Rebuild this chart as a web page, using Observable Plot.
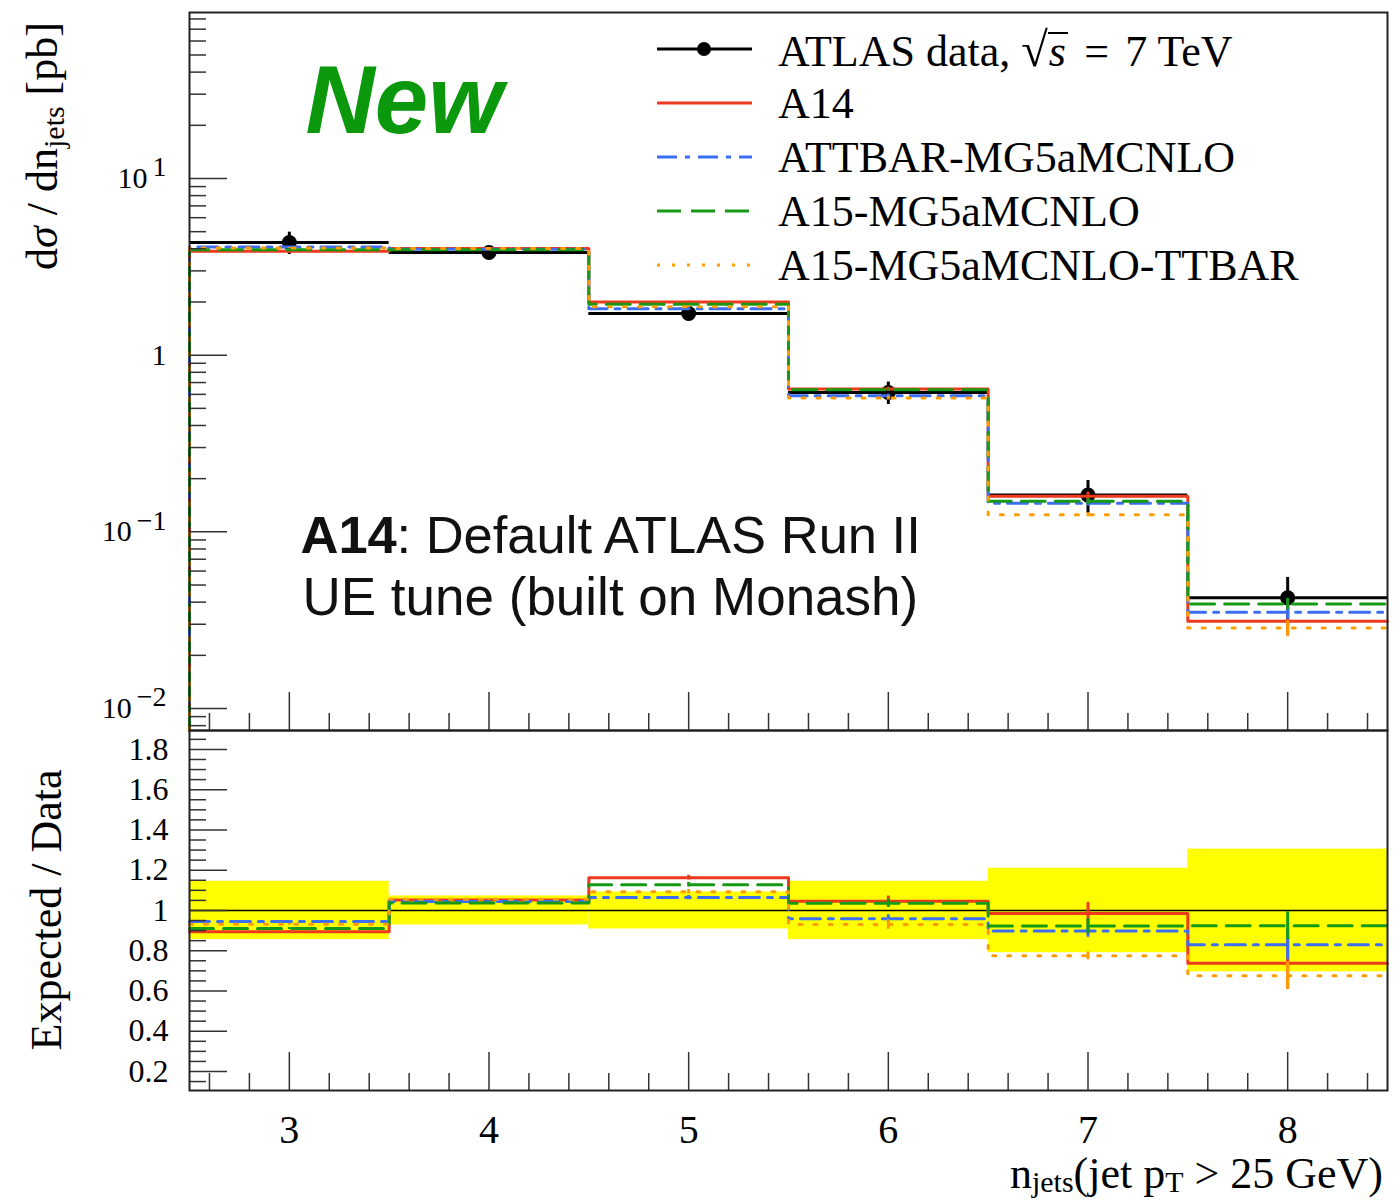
<!DOCTYPE html>
<html>
<head>
<meta charset="utf-8">
<script src="https://cdn.jsdelivr.net/npm/d3@7"></script>
<script src="https://cdn.jsdelivr.net/npm/@observablehq/plot@0.6"></script>
<style>
  html, body { margin: 0; padding: 0; background: #fff; overflow: hidden; }
  #wrap { position: relative; width: 1400px; height: 1202px; overflow: hidden; background: #fff; }
  #wrap svg.plotsvg { position: absolute; left: 0; }
  .serif { font-family: "Liberation Serif", "Times New Roman", serif; color: #000; }
  .ytitle { position: absolute; transform: translate(-50%, -50%) rotate(-90deg); white-space: nowrap; font-size: 44px; line-height: 44px; }
  .ytitle sub { font-size: 0.68em; line-height: 0; vertical-align: -0.22em; }
  .xtitle { position: absolute; white-space: nowrap; font-size: 44px; line-height: 40px; }
  .xtitle sub { font-size: 0.68em; line-height: 0; vertical-align: -0.12em; }
  .legrow { position: absolute; left: 650px; height: 54px; display: flex; align-items: center; white-space: nowrap; font-size: 44px; }
  .legrow svg { width: 110px; height: 20px; margin-right: 18px; flex: none; }
  .rad { font-size: 1.1em; }
  .over { font-style: italic; display: inline-block; border-top: 2px solid #000; line-height: 0.78em; padding: 1px 2px 0 1px; }
  .eq { padding: 0 0.12em; }
</style>
</head>
<body>
<div id="wrap"></div>
<script>
// n_jets bins (jet pT > 25 GeV)
const binEdges = [2.5, 3.5, 4.5, 5.5, 6.5, 7.5, 8.5];
const nJets = [3, 4, 5, 6, 7, 8];
const xTickLabels = ["3", "4", "5", "6", "7", "8"];

// ATLAS 7 TeV measurement: dσ/dn_jets [pb] and relative uncertainty
const dataXsec = [4.34, 3.81, 1.72, 0.615, 0.1614, 0.0423];
const dataRelErr = [0.145, 0.072, 0.092, 0.145, 0.21, 0.305];

// Generator predictions [pb]
const a14 = [3.88, 4.01, 2.00, 0.643, 0.159, 0.0312];
const attbar = [4.10, 3.98, 1.83, 0.590, 0.145, 0.0351];
const a15 = [3.95, 3.95, 1.94, 0.637, 0.149, 0.0391];
const a15ttbar = [4.04, 4.02, 1.88, 0.572, 0.125, 0.0286];

// Relative MC statistical uncertainties
const a14Err = [0.005, 0.005, 0.01, 0.025, 0.055, 0.175];
const attbarErr = [0.005, 0.005, 0.01, 0.02, 0.035, 0.09];
const a15Err = [0.005, 0.005, 0.01, 0.02, 0.04, 0.075];
const a15ttbarErr = [0.005, 0.005, 0.01, 0.025, 0.025, 0.1];

// Axis tick labels
const logTickValues = [0.01, 0.1, 1, 10];
const logTickLabels = ["10^−2", "10^−1", "1", "10^1"];
const ratioTickValues = [0.2, 0.4, 0.6, 0.8, 1, 1.2, 1.4, 1.6, 1.8];
const ratioTickLabels = ["0.2", "0.4", "0.6", "0.8", "1", "1.2", "1.4", "1.6", "1.8"];

const series = [
  {name: "A14", values: a14, err: a14Err, color: "#ee3a1c", dash: null},
  {name: "ATTBAR-MG5aMCNLO", values: attbar, err: attbarErr, color: "#3b6ef2", dash: "20,8,5,8"},
  {name: "A15-MG5aMCNLO", values: a15, err: a15Err, color: "#169a16", dash: "24,10"},
  {name: "A15-MG5aMCNLO-TTBAR", values: a15ttbar, err: a15ttbarErr, color: "#ff9d00", dash: "3,12"}
];

// ---- layout
const W = 1400, mL = 189, mR = 13;
const plotW = W - mL - mR;
const topH = 742, topMT = 12, topMB = 12;      // frame y: 12 .. 730
const topPlotH = topH - topMT - topMB;
const botH = 482, botMT = 10, botMB = 112;     // placed at y=720 -> frame 730 .. 1090
const botPlotH = botH - botMT - botMB;
const topDomain = [0.00751, 87];
const ratioDomain = [0.1056, 1.894];
const majorLen = 38, minorLen = 17;
const tickStroke = "#333";
const serif = "Liberation Serif";

// tick positions
const xMinor = d3.range(13, 43).filter(i => i % 5 !== 0).map(i => i / 5);
const logMinor = [];
for (let e = -3; e <= 1; e++) for (let k = 2; k <= 9; k++) {
  const v = k * Math.pow(10, e);
  if (v > topDomain[0] && v < topDomain[1]) logMinor.push(v);
}
const ratioMinor = d3.range(3, 38).map(i => i / 20).filter(v => Math.abs(v * 5 - Math.round(v * 5)) > 1e-6);

// helpers
function stepPoints(vals, start) {
  const pts = [];
  if (start != null) pts.push({x: binEdges[0], y: start});
  vals.forEach((v, i) => { pts.push({x: binEdges[i], y: v}, {x: binEdges[i + 1], y: v}); });
  return pts;
}

const dataRows = nJets.map((n, i) => ({n, lo: binEdges[i], hi: binEdges[i + 1], v: dataXsec[i], e: dataRelErr[i]}));

function tickMarks(plotH, yMajor, yMinor) {
  return [
    Plot.tickX(nJets, {x: d => d, insetTop: plotH - majorLen, stroke: tickStroke, strokeWidth: 1.5}),
    Plot.tickX(xMinor, {x: d => d, insetTop: plotH - minorLen, stroke: tickStroke, strokeWidth: 1.5}),
    Plot.tickY(yMajor, {y: d => d, insetRight: plotW - majorLen, stroke: tickStroke, strokeWidth: 1.5}),
    Plot.tickY(yMinor, {y: d => d, insetRight: plotW - minorLen, stroke: tickStroke, strokeWidth: 1.5})
  ];
}

// ---- main panel
const topMarks = [];
// data: horizontal bin bars, error bars, markers
topMarks.push(Plot.ruleY(dataRows, {x1: "lo", x2: "hi", y: "v", stroke: "#000", strokeWidth: 3}));
topMarks.push(Plot.ruleX(dataRows, {x: "n", y1: d => d.v * (1 - d.e), y2: d => d.v * (1 + d.e), stroke: "#000", strokeWidth: 3}));
topMarks.push(Plot.dot(dataRows, {x: "n", y: "v", r: 7.5, fill: "#000", stroke: null}));
// predictions
for (const s of series) {
  topMarks.push(Plot.line(stepPoints(s.values, topDomain[0]), {x: "x", y: "y", stroke: s.color, strokeWidth: 3, strokeDasharray: s.dash}));
  const rows = nJets.map((n, i) => ({n, v: s.values[i], e: s.err[i]}));
  topMarks.push(Plot.ruleX(rows, {x: "n", y1: d => d.v * (1 - d.e), y2: d => d.v * (1 + d.e), stroke: s.color, strokeWidth: 3}));
}
topMarks.push(...tickMarks(topPlotH, logTickValues, logMinor));
topMarks.push(Plot.frame({stroke: "#222", strokeWidth: 2}));
topMarks.push(Plot.text(logTickValues, {
  y: d => d, frameAnchor: "left", text: (d, i) => logTickLabels[i], textAnchor: "end", dx: -23,
  fontFamily: serif, fontSize: 30, fill: "#000"
}));
// annotations
topMarks.push(Plot.text(["New"], {
  frameAnchor: "top-left", text: d => d, dx: 305 - mL, dy: 132 - topMT, lineAnchor: "bottom", textAnchor: "start",
  fontFamily: "Liberation Sans", fontWeight: "bold", fontStyle: "italic", fontSize: 96, fill: "#0c980c"
}));
topMarks.push(Plot.text(["A14"], {
  frameAnchor: "top-left", text: d => d, dx: 300 - mL, dy: 552 - topMT, lineAnchor: "bottom", textAnchor: "start",
  fontFamily: "Liberation Sans", fontWeight: "bold", fontSize: 52.5, fill: "#111"
}));
topMarks.push(Plot.text([": Default ATLAS Run II"], {
  frameAnchor: "top-left", text: d => d, dx: 396 - mL, dy: 552 - topMT, lineAnchor: "bottom", textAnchor: "start",
  fontFamily: "Liberation Sans", fontSize: 52.5, fill: "#111"
}));
topMarks.push(Plot.text(["UE tune (built on Monash)"], {
  frameAnchor: "top-left", text: d => d, dx: 302 - mL, dy: 614 - topMT, lineAnchor: "bottom", textAnchor: "start",
  fontFamily: "Liberation Sans", fontSize: 53, fill: "#111"
}));

const topPlot = Plot.plot({
  width: W, height: topH,
  marginLeft: mL, marginRight: mR, marginTop: topMT, marginBottom: topMB,
  x: {domain: [binEdges[0], binEdges[binEdges.length - 1]], axis: null},
  y: {type: "log", domain: topDomain, axis: null},
  style: {background: "transparent", fontFamily: serif, overflow: "visible"},
  marks: topMarks
});

// ---- ratio panel
const botMarks = [];
botMarks.push(Plot.rectY(dataRows, {x1: "lo", x2: "hi", y1: d => 1 - d.e, y2: d => 1 + d.e, fill: "#ffff00", stroke: null}));
botMarks.push(Plot.ruleY([1], {stroke: "#000", strokeWidth: 1.5}));
for (const s of series) {
  const ratios = s.values.map((v, i) => v / dataXsec[i]);
  botMarks.push(Plot.line(stepPoints(ratios, null), {x: "x", y: "y", stroke: s.color, strokeWidth: 3, strokeDasharray: s.dash}));
  const rows = nJets.map((n, i) => ({n, r: ratios[i], e: s.err[i]}));
  botMarks.push(Plot.ruleX(rows, {x: "n", y1: d => d.r * (1 - d.e), y2: d => d.r * (1 + d.e), stroke: s.color, strokeWidth: 3}));
}
botMarks.push(...tickMarks(botPlotH, ratioTickValues, ratioMinor));
botMarks.push(Plot.frame({stroke: "#222", strokeWidth: 2}));
botMarks.push(Plot.text(ratioTickValues, {
  y: d => d, frameAnchor: "left", text: (d, i) => ratioTickLabels[i], textAnchor: "end", dx: -21,
  fontFamily: serif, fontSize: 32, fill: "#000"
}));
botMarks.push(Plot.text(nJets, {
  x: d => d, frameAnchor: "bottom", text: (d, i) => xTickLabels[i], lineAnchor: "top", dy: 24,
  fontFamily: serif, fontSize: 40, fill: "#000"
}));

const botPlot = Plot.plot({
  width: W, height: botH,
  marginLeft: mL, marginRight: mR, marginTop: botMT, marginBottom: botMB,
  x: {domain: [binEdges[0], binEdges[binEdges.length - 1]], axis: null},
  y: {domain: ratioDomain, axis: null},
  style: {background: "transparent", fontFamily: serif, overflow: "visible"},
  marks: botMarks
});

// superscript exponents on the log tick labels
const NS = "http://www.w3.org/2000/svg";
topPlot.querySelectorAll("text").forEach(t => {
  if (t.children.length || !t.textContent.includes("^")) return;
  const parts = t.textContent.split("^");
  t.textContent = "";
  const b = document.createElementNS(NS, "tspan");
  b.textContent = parts[0];
  t.appendChild(b);
  const e = document.createElementNS(NS, "tspan");
  e.textContent = parts[1];
  e.setAttribute("dy", "-0.42em");
  e.setAttribute("dx", "5");
  e.setAttribute("font-size", "28");
  t.appendChild(e);
});

const wrap = document.getElementById("wrap");
topPlot.classList.add("plotsvg");
topPlot.style.top = "0px";
botPlot.classList.add("plotsvg");
botPlot.style.top = "720px";
wrap.appendChild(topPlot);
wrap.appendChild(botPlot);

// axis titles
function addDiv(cls, html, style) {
  const d = document.createElement("div");
  d.className = cls;
  d.innerHTML = html;
  Object.assign(d.style, style);
  wrap.appendChild(d);
  return d;
}
addDiv("serif ytitle", "d<i>σ</i> / dn<sub>jets</sub> [pb]", {left: "43px", top: "146px"});
addDiv("serif ytitle", "Expected / Data", {left: "47px", top: "910px"});
addDiv("serif xtitle", "n<sub>jets</sub>(jet p<sub>T</sub> &gt; 25 GeV)", {right: "17px", top: "1154px"});

// legend
const legendRows = [
  {label: 'ATLAS data, <span class="rad">√</span><span class="over">s</span><span class="eq"> = </span>7 TeV', color: "#000", dash: null, marker: true},
  ...series.map(s => ({label: s.name, color: s.color, dash: s.dash, marker: false}))
];
const legendCenters = [49, 103, 157, 211, 265];
legendRows.forEach((r, i) => {
  const swatch = `<svg viewBox="0 0 110 20"><line x1="7" y1="10" x2="102" y2="10" stroke="${r.color}" stroke-width="3"${r.dash ? ` stroke-dasharray="${r.dash}"` : ""}/>` +
    (r.marker ? `<circle cx="54" cy="10" r="7" fill="#000"/>` : "") + `</svg>`;
  addDiv("serif legrow", swatch + `<span>${r.label}</span>`, {top: (legendCenters[i] - 27) + "px"});
});
</script>
</body>
</html>
